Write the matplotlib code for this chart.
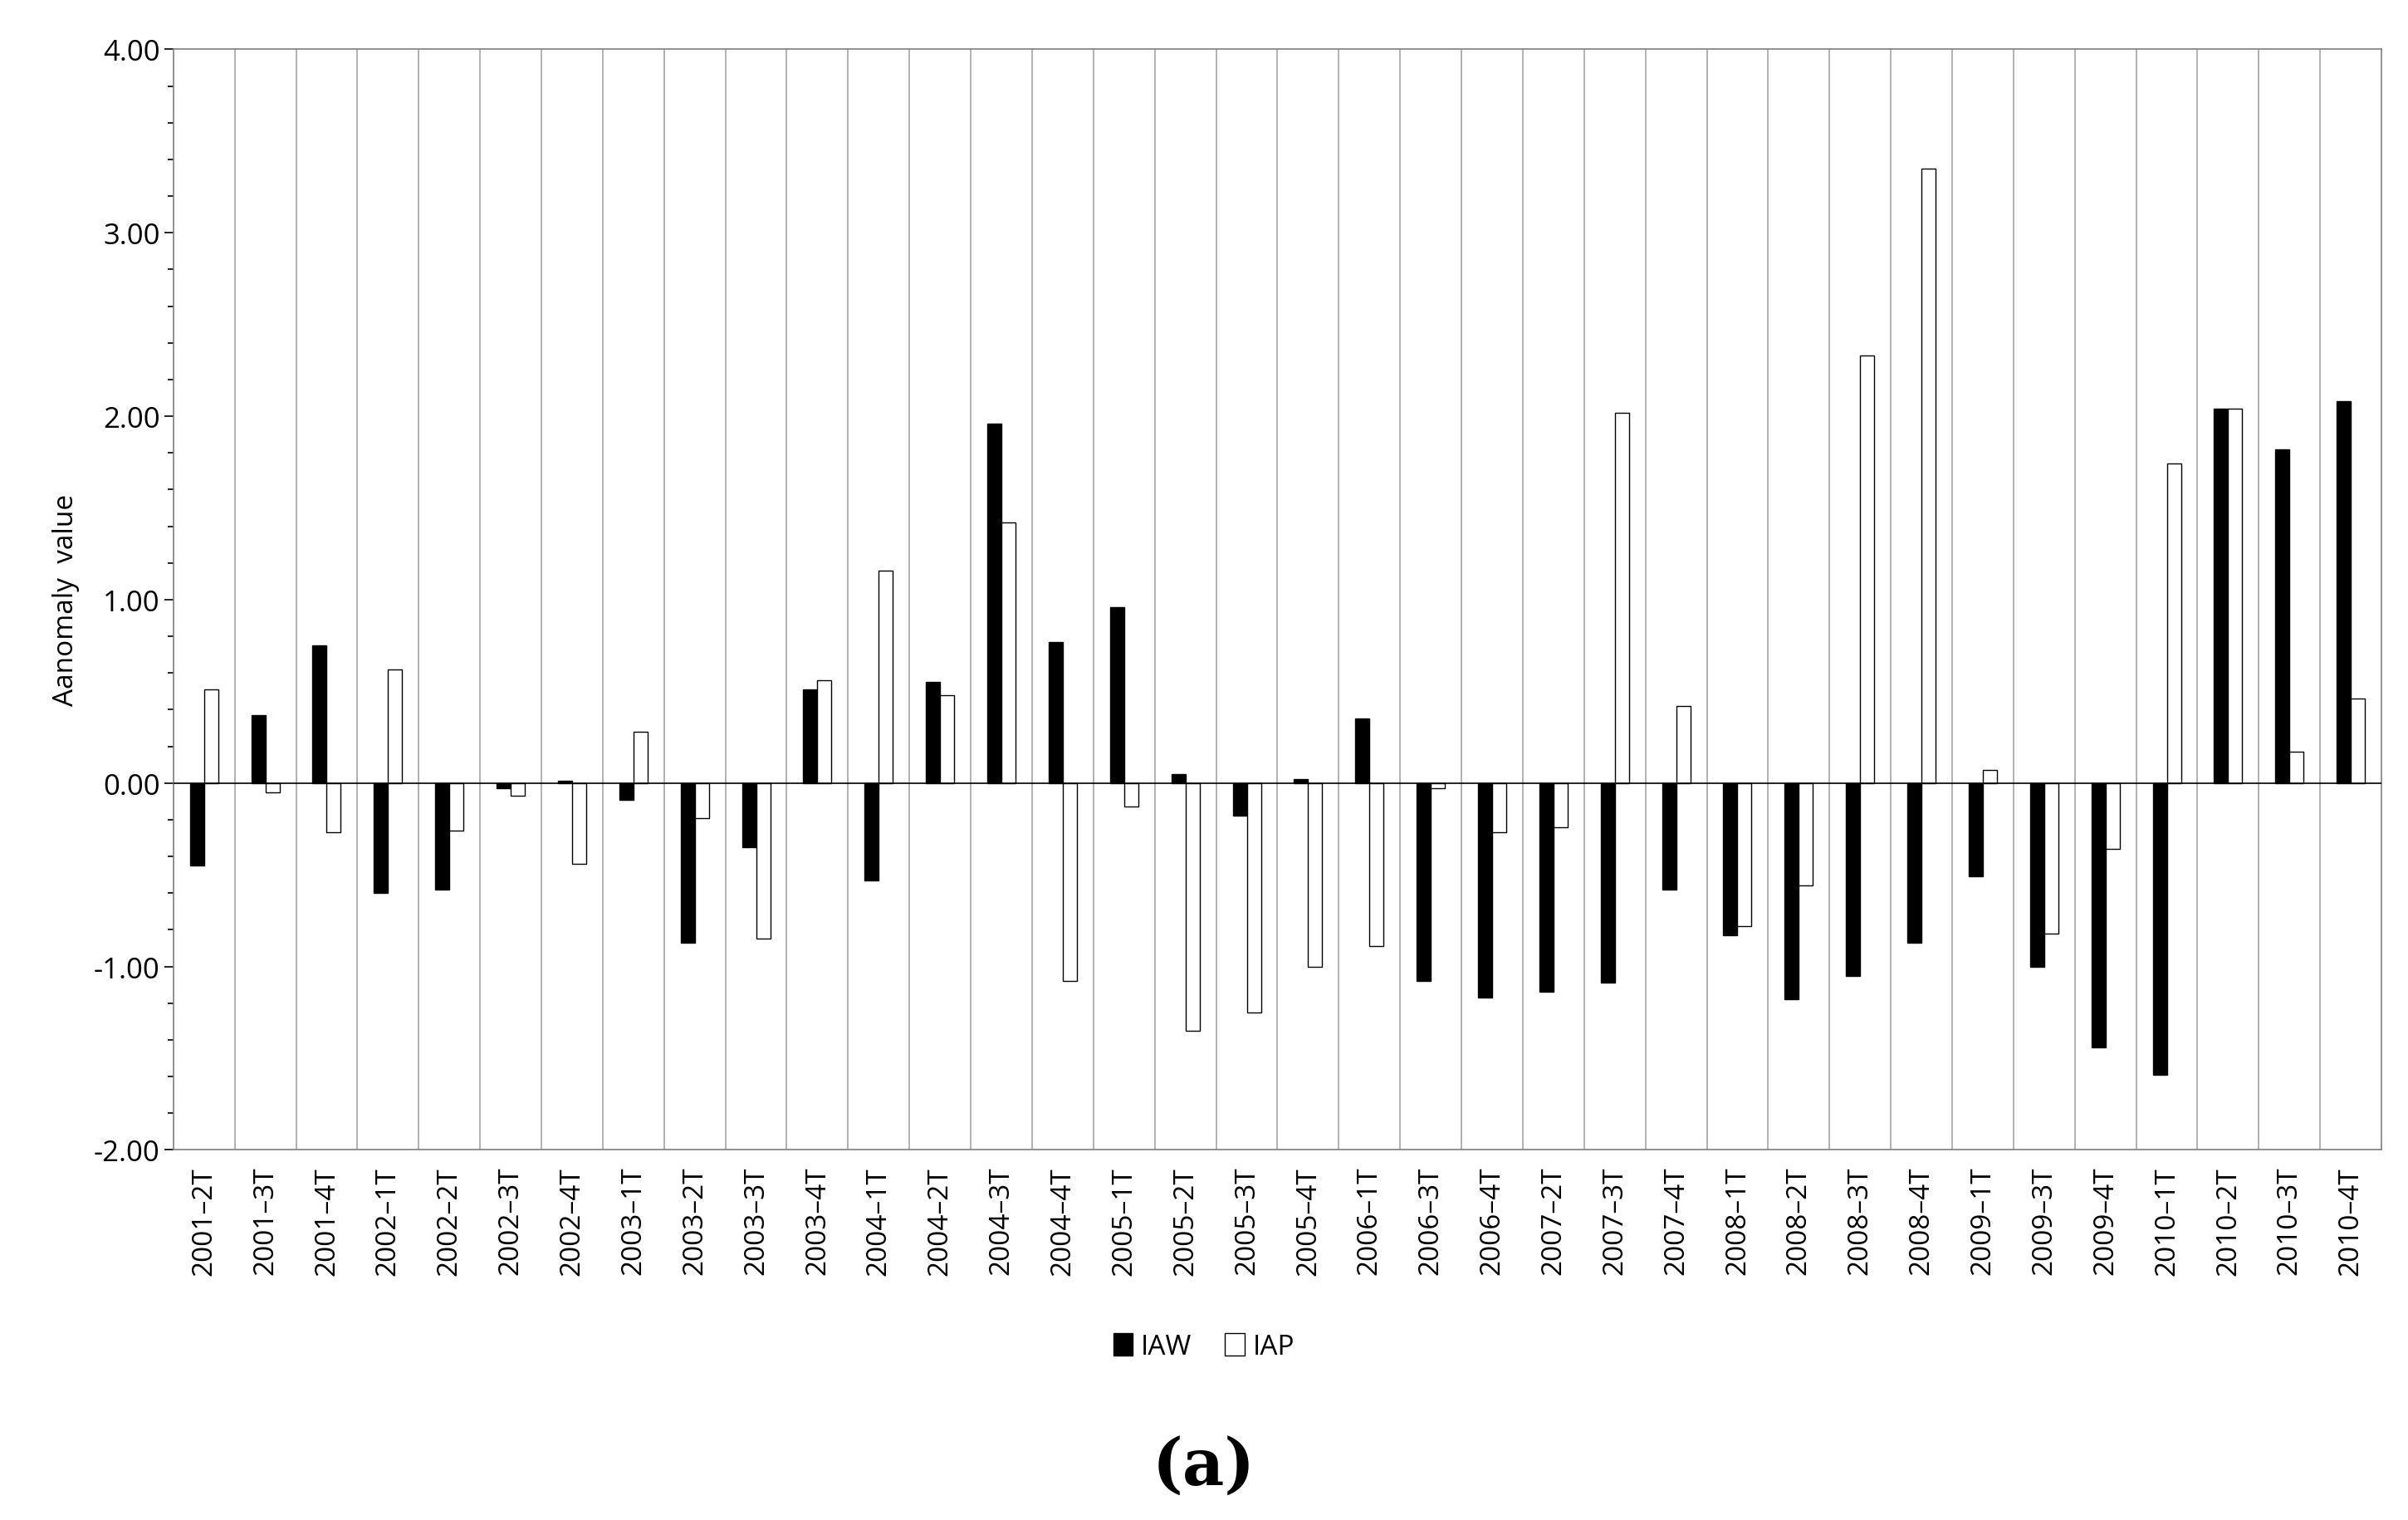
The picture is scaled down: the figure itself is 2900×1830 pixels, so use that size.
import numpy as np
import matplotlib.pyplot as plt
from matplotlib.ticker import MultipleLocator

categories = ["2001–2T", "2001–3T", "2001–4T", "2002–1T", "2002–2T", "2002–3T", "2002–4T",
              "2003–1T", "2003–2T", "2003–3T", "2003–4T", "2004–1T", "2004–2T", "2004–3T",
              "2004–4T", "2005–1T", "2005–2T", "2005–3T", "2005–4T", "2006–1T", "2006–3T",
              "2006–4T", "2007–2T", "2007–3T", "2007–4T", "2008–1T", "2008–2T", "2008–3T",
              "2008–4T", "2009–1T", "2009–3T", "2009–4T", "2010–1T", "2010–2T", "2010–3T",
              "2010–4T"]
iaw = [-0.45, 0.37, 0.75, -0.60, -0.58, -0.03, 0.01, -0.09, -0.87, -0.35, 0.51, -0.53,
       0.55, 1.96, 0.77, 0.96, 0.05, -0.18, 0.02, 0.35, -1.08, -1.17, -1.14, -1.09, -0.58,
       -0.83, -1.18, -1.05, -0.87, -0.51, -1.00, -1.44, -1.59, 2.04, 1.82, 2.08]
iap = [0.51, -0.05, -0.27, 0.62, -0.26, -0.07, -0.44, 0.28, -0.19, -0.85, 0.56, 1.16,
       0.48, 1.42, -1.08, -0.13, -1.35, -1.25, -1.00, -0.89, -0.03, -0.27, -0.24, 2.02,
       0.42, -0.78, -0.56, 2.33, 3.35, 0.07, -0.82, -0.36, 1.74, 2.04, 0.17, 0.46]

plt.rcParams['font.family'] = ['Open Sans', 'DejaVu Sans']

fig = plt.figure(figsize=(29, 18.31), dpi=100)
ax = fig.add_axes([0.072, 0.2434, 0.917, 0.7236])

x = np.arange(len(categories))
w = 0.23
ax.bar(x - w / 2, iaw, w, color='black', edgecolor='black', linewidth=1, label='IAW', zorder=3)
ax.bar(x + w / 2, iap, w, color='white', edgecolor='black', linewidth=1, label='IAP', zorder=3)

ax.set_xlim(-0.5, len(categories) - 0.5)
ax.set_ylim(-2, 4)
ax.axhline(0, color='black', linewidth=1.2, zorder=4)
for b in np.arange(0.5, len(categories) - 0.5, 1):
    ax.axvline(b, color='#a6a6a6', linewidth=1.2, zorder=1)

ax.yaxis.set_minor_locator(MultipleLocator(0.2))
ax.set_yticks(np.arange(-2, 4.01, 1))
ax.set_yticklabels([f"{v:.2f}" for v in np.arange(-2, 4.01, 1)], fontsize=25)
ax.tick_params(axis='y', which='major', length=8, width=1.2)
ax.tick_params(axis='y', which='minor', length=5, width=1.2)
ax.set_xticks(x)
ax.set_xticklabels(categories, rotation=90, fontsize=24)
ax.tick_params(axis='x', length=0, pad=14)
ax.set_ylabel("Aanomaly  value", fontsize=24, labelpad=12)
for s in ax.spines.values():
    s.set_color('#7f7f7f')
    s.set_linewidth(1.2)

fig.legend(loc='center', bbox_to_anchor=(0.5, 0.114), ncol=2, frameon=False,
           fontsize=24, handlelength=0.7, handleheight=0.9, columnspacing=1.2, handletextpad=0.3)
fig.text(0.5, 0.035, "(a)", ha='center', va='center', fontsize=56, fontweight='bold',
         family='DejaVu Serif')

fig.savefig("out.png", dpi=100)
